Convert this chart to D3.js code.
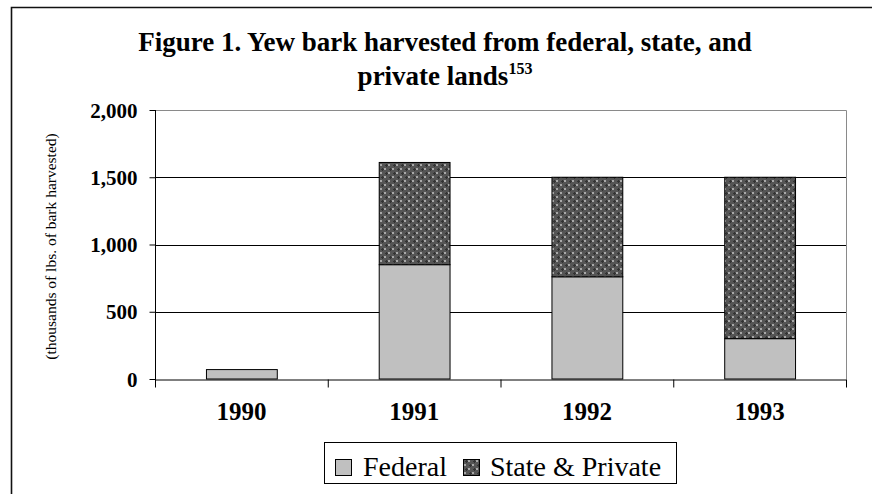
<!DOCTYPE html>
<html>
<head>
<meta charset="utf-8">
<script src="https://cdn.jsdelivr.net/npm/d3@7"></script>
<style>
  html, body { margin: 0; padding: 0; background: #fff; }
  svg { display: block; }
</style>
</head>
<body>
<svg id="chart" width="872" height="494"></svg>
<script>
const years = ["1990", "1991", "1992", "1993"];
const federal = [70, 850, 760, 300];
const statePrivate = [0, 760, 740, 1200];
const yTicks = [0, 500, 1000, 1500, 2000];
const seriesNames = ["Federal", "State & Private"];
const titleLine1 = "Figure 1. Yew bark harvested from federal, state, and";
const titleLine2 = "private lands";
const titleSup = "153";
const yAxisTitle = "(thousands of lbs. of bark harvested)";

const SERIF = "'Liberation Serif', 'Times New Roman', 'DejaVu Serif', serif";
const svg = d3.select("#chart");
const W = 872, H = 494;
const plot = { left: 155, right: 846, top: 110, bottom: 379 };

// Pattern for State & Private
const defs = svg.append("defs");
const pat = defs.append("pattern")
  .attr("id", "hatch").attr("patternUnits", "userSpaceOnUse")
  .attr("width", 8).attr("height", 8);
pat.append("rect").attr("width", 8).attr("height", 8).attr("fill", "#555");
pat.append("rect").attr("x", 0).attr("y", 0).attr("width", 2).attr("height", 2).attr("fill", "#a8a8a8");
pat.append("rect").attr("x", 4).attr("y", 4).attr("width", 2).attr("height", 2).attr("fill", "#a8a8a8");
pat.append("rect").attr("x", 1).attr("y", 5).attr("width", 3).attr("height", 1).attr("fill", "#333");
pat.append("rect").attr("x", 2).attr("y", 4).attr("width", 1).attr("height", 3).attr("fill", "#333");
pat.append("rect").attr("x", 5).attr("y", 1).attr("width", 3).attr("height", 1).attr("fill", "#333");
pat.append("rect").attr("x", 6).attr("y", 0).attr("width", 1).attr("height", 3).attr("fill", "#333");

// Outer frame (left & top)
svg.append("path")
  .attr("d", `M11.5,${H} L11.5,7.5 L${W},7.5`)
  .attr("fill", "none").attr("stroke", "#111").attr("stroke-width", 1.6);

const x = d3.scaleBand().domain(years).range([plot.left, plot.right])
  .paddingInner(0.59).paddingOuter(0.295);
const xEdges = d3.scaleLinear().domain([0, years.length]).range([plot.left, plot.right]);
const y = d3.scaleLinear().domain([0, 2000]).range([plot.bottom, plot.top]);

// Plot area border (top & right gray)
svg.append("path")
  .attr("d", `M${plot.left},${plot.top + 0.5} L${plot.right + 0.5},${plot.top + 0.5} L${plot.right + 0.5},${plot.bottom}`)
  .attr("fill", "none").attr("stroke", "#8a8a8a").attr("stroke-width", 1);

// Gridlines
svg.append("g").selectAll("line")
  .data(yTicks.filter(v => v > 0 && v < 2000))
  .join("line")
  .attr("x1", plot.left).attr("x2", plot.right)
  .attr("y1", d => Math.round(y(d)) + 0.5).attr("y2", d => Math.round(y(d)) + 0.5)
  .attr("stroke", "#000").attr("stroke-width", 1);

// Bars
const stack = years.map((yr, i) => ({ yr, f: federal[i], s: statePrivate[i] }));
const g = svg.append("g");
g.selectAll("rect.fed").data(stack).join("rect")
  .attr("class", "fed")
  .attr("x", d => x(d.yr) + 0.5)
  .attr("width", x.bandwidth())
  .attr("y", d => y(d.f))
  .attr("height", d => y(0) - y(d.f))
  .attr("fill", "#c0c0c0").attr("stroke", "#000").attr("stroke-width", 1);
g.selectAll("rect.sp").data(stack.filter(d => d.s > 0)).join("rect")
  .attr("class", "sp")
  .attr("x", d => x(d.yr) + 0.5)
  .attr("width", x.bandwidth())
  .attr("y", d => y(d.f + d.s))
  .attr("height", d => y(d.f) - y(d.f + d.s))
  .attr("fill", "url(#hatch)").attr("stroke", "#000").attr("stroke-width", 1);

// Y axis
const yAxis = svg.append("g")
  .attr("transform", `translate(${plot.left + 0.5},0)`)
  .call(d3.axisLeft(y).tickValues(yTicks).tickFormat(d3.format(",")).tickSize(6).tickSizeOuter(0));
yAxis.select(".domain").remove();
yAxis.append("line").attr("x1", 0).attr("x2", 0).attr("y1", plot.top).attr("y2", plot.bottom + 8)
  .attr("stroke", "#000");
yAxis.selectAll(".tick line").attr("stroke", "#000");
yAxis.selectAll(".tick text")
  .attr("x", -18).attr("dy", "0.34em")
  .attr("font-family", SERIF)
  .attr("font-weight", "bold").attr("font-size", 21).attr("fill", "#000");

// X axis (ticks at category edges)
const xAxis = svg.append("g")
  .attr("transform", `translate(0,${plot.bottom + 0.5})`)
  .call(d3.axisBottom(xEdges).tickValues(d3.range(years.length + 1)).tickFormat("").tickSize(8).tickSizeOuter(0));
xAxis.select(".domain").attr("stroke", "#000");
xAxis.selectAll(".tick line").attr("stroke", "#000");

// X labels
svg.append("g").selectAll("text").data(years).join("text")
  .attr("x", d => x(d) + x.bandwidth() / 2)
  .attr("y", 420)
  .attr("text-anchor", "middle")
  .attr("font-family", SERIF)
  .attr("font-weight", "bold").attr("font-size", 25)
  .text(d => d);

// Y axis title
svg.append("text")
  .attr("transform", `translate(56,246.5) rotate(-90)`)
  .attr("text-anchor", "middle")
  .attr("font-family", SERIF)
  .attr("font-size", 15.5)
  .text(yAxisTitle);

// Title
svg.append("text")
  .attr("x", 445).attr("y", 51)
  .attr("text-anchor", "middle")
  .attr("font-family", SERIF)
  .attr("font-weight", "bold").attr("font-size", 27)
  .text(titleLine1);
const t2 = svg.append("text")
  .attr("x", 445).attr("y", 85)
  .attr("text-anchor", "middle")
  .attr("font-family", SERIF)
  .attr("font-weight", "bold").attr("font-size", 27);
t2.append("tspan").text(titleLine2);
t2.append("tspan").attr("dy", -11).attr("font-size", 16).text(titleSup);

// Legend
const lg = svg.append("g");
lg.append("rect").attr("x", 324.5).attr("y", 442.5).attr("width", 352).attr("height", 41)
  .attr("fill", "#fff").attr("stroke", "#000").attr("stroke-width", 1);
const legendItems = [
  { name: seriesNames[0], fill: "#c0c0c0", sx: 335, tx: 363 },
  { name: seriesNames[1], fill: "url(#hatch)", sx: 463, tx: 490 }
];
lg.selectAll("rect.sw").data(legendItems).join("rect")
  .attr("class", "sw")
  .attr("x", d => d.sx + 0.5).attr("y", 459.5).attr("width", 16).attr("height", 16)
  .attr("fill", d => d.fill).attr("stroke", "#000").attr("stroke-width", 1);
lg.selectAll("text.lt").data(legendItems).join("text")
  .attr("class", "lt")
  .attr("x", d => d.tx).attr("y", 476)
  .attr("font-family", SERIF)
  .attr("font-size", 28)
  .text(d => d.name);
</script>
</body>
</html>
